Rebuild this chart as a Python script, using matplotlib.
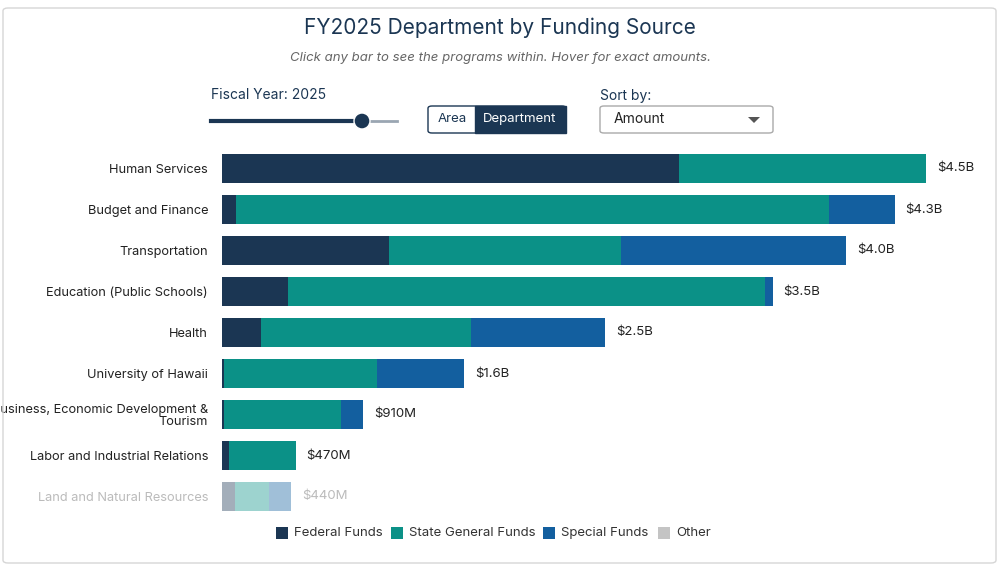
import matplotlib
matplotlib.use("Agg")
import matplotlib.pyplot as plt
import numpy as np
from matplotlib.patches import FancyBboxPatch, Rectangle, Polygon, Ellipse
from matplotlib.lines import Line2D

plt.rcParams["font.family"] = ["Inter", "DejaVu Sans"]

departments = [
    "Human Services", "Budget and Finance", "Transportation",
    "Education (Public Schools)", "Health", "University of Hawaii",
    "Business, Economic Development &\nTourism", "Labor and Industrial Relations",
    "Land and Natural Resources",
]
federal = [2.92, 0.09, 1.07, 0.42, 0.25, 0.01, 0.01, 0.045, 0.08]
state_general = [1.58, 3.79, 1.48, 3.05, 1.34, 0.98, 0.75, 0.425, 0.22]
special = [0.00, 0.42, 1.44, 0.05, 0.86, 0.56, 0.14, 0.0, 0.14]
totals_label = ["$4.5B", "$4.3B", "$4.0B", "$3.5B", "$2.5B", "$1.6B", "$910M", "$470M", "$440M"]

c_fed, c_state, c_spec, c_other = "#1b3653", "#0b9187", "#135f9f", "#c4c4c4"
navy = "#1b3653"

fig = plt.figure(figsize=(10, 5.68), dpi=100)
W, H = 1000, 568

def fx(x):
    return x / W

def fy(y):
    return 1 - y / H

# outer border
fig.patches.append(FancyBboxPatch((fx(3), fy(563)), fx(993), 555 / H, boxstyle="round,pad=0,rounding_size=0.005",
                                  transform=fig.transFigure, fc="none", ec="#d6d6d6", lw=1))

fig.text(0.5, fy(28), "FY2025 Department by Funding Source", ha="center", va="center", fontsize=15, color=navy)
fig.text(0.5, fy(58), "Click any bar to see the programs within. Hover for exact amounts.", ha="center",
         va="center", fontsize=9.5, color="#666666", style="italic")

# slider
fig.text(fx(211), fy(95), "Fiscal Year: 2025", ha="left", va="center", fontsize=10, color=navy)
fig.add_artist(Line2D([fx(211), fx(362)], [fy(121), fy(121)], transform=fig.transFigure, color=navy, lw=3, zorder=3))
fig.add_artist(Line2D([fx(362), fx(397)], [fy(121), fy(121)], transform=fig.transFigure, color="#9aa6b2", lw=2, zorder=3))
fig.add_artist(Ellipse((fx(362), fy(121)), fx(16), 16 / H, transform=fig.transFigure, fc=navy, ec="white",
                       lw=1, zorder=4))

# toggle
fig.patches.append(FancyBboxPatch((fx(428), fy(133)), fx(138), 27 / H, boxstyle="round,pad=0,rounding_size=0.004",
                                  transform=fig.transFigure, fc="white", ec=navy, lw=1))
fig.patches.append(Rectangle((fx(475), fy(133)), fx(91), 27 / H, transform=fig.transFigure, fc=navy, ec=navy))
fig.text(fx(452), fy(119), "Area", ha="center", va="center", fontsize=9.5, color=navy)
fig.text(fx(520), fy(119), "Department", ha="center", va="center", fontsize=9.5, color="white")

# dropdown
fig.text(fx(600), fy(96), "Sort by:", ha="left", va="center", fontsize=10, color=navy)
fig.patches.append(FancyBboxPatch((fx(600), fy(133)), fx(173), 27 / H, boxstyle="round,pad=0,rounding_size=0.004",
                                  transform=fig.transFigure, fc="white", ec="#aaaaaa", lw=1))
fig.text(fx(614), fy(119), "Amount", ha="left", va="center", fontsize=10, color="#222222")
fig.add_artist(Polygon([[fx(748), fy(117)], [fx(760), fy(117)], [fx(754), fy(123)]], closed=True,
                       transform=fig.transFigure, fc="#555555", ec="none", zorder=5))

ax = fig.add_axes([fx(222), fy(517), fx(758), 369 / H])
y = np.arange(len(departments))
fed = np.array(federal)
st = np.array(state_general)
sp = np.array(special)
for i in y:
    a = 0.4 if i == len(departments) - 1 else 1.0
    ax.barh(i, fed[i], height=0.73, color=c_fed, alpha=a)
    ax.barh(i, st[i], left=fed[i], height=0.73, color=c_state, alpha=a)
    ax.barh(i, sp[i], left=fed[i] + st[i], height=0.73, color=c_spec, alpha=a)
    tot = fed[i] + st[i] + sp[i]
    ax.text(tot + 0.07, i, totals_label[i], va="center", ha="left", fontsize=9.5,
            color="#bbbbbb" if a < 1 else "#222222")
ax.set_ylim(len(departments) - 0.5, -0.5)
ax.set_xlim(0, 758 / 156.4)
ax.set_yticks(y)
ax.set_yticklabels(departments, fontsize=9.2, linespacing=0.95)
for i, lab in enumerate(ax.get_yticklabels()):
    lab.set_color("#bbbbbb" if i == len(departments) - 1 else "#222222")
ax.tick_params(axis="y", length=0, pad=10)
ax.set_xticks([])
for s in ax.spines.values():
    s.set_visible(False)

# legend
items = [("Federal Funds", c_fed, 276), ("State General Funds", c_state, 391),
         ("Special Funds", c_spec, 543), ("Other", c_other, 658)]
for name, col, x0 in items:
    fig.patches.append(Rectangle((fx(x0), fy(539)), fx(12), 12 / H, transform=fig.transFigure, fc=col, ec="none"))
    fig.text(fx(x0 + 18), fy(533), name, ha="left", va="center", fontsize=9.5, color="#333333")

fig.savefig("out.png", dpi=100)
